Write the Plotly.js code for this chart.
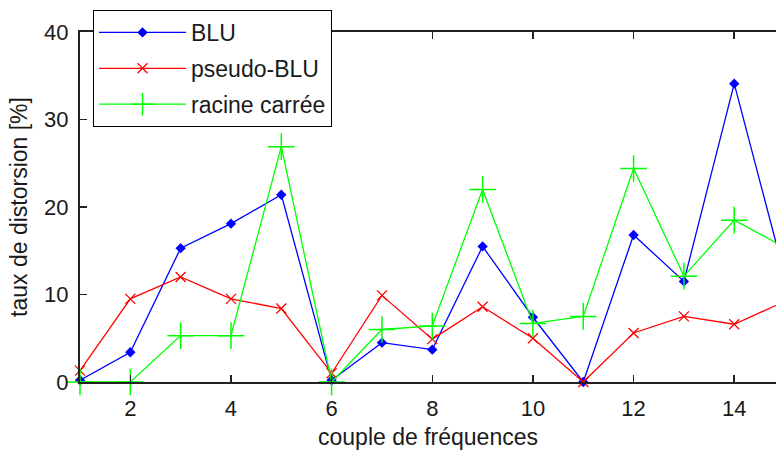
<!DOCTYPE html>
<html>
<head>
<meta charset="utf-8">
<script src="https://cdn.plot.ly/plotly-3.0.1.min.js"></script>
<style>
html,body{margin:0;padding:0;overflow:hidden;background:#fff;}
#chart{width:776px;height:450px;}
</style>
</head>
<body>
<div id="chart"></div>
<script>
var frequencyPairs = [1,2,3,4,5,6,7,8,9,10,11,12,13,14,15];
var bluValues = [0.2,3.4,15.3,18.1,21.4,0.2,4.5,3.7,15.5,7.4,0,16.8,11.5,34.1,12.2];
var pseudoBluValues = [1.3,9.5,12.0,9.5,8.4,1.0,9.9,4.9,8.6,5.0,0,5.6,7.5,6.6,9.2];
var racineValues = [0,0,5.3,5.3,26.9,0,6.0,6.4,22.0,6.7,7.5,24.4,12.1,18.5,15.4];
var seriesNames = ['BLU','pseudo-BLU','racine carrée'];
var xTicks = [2,4,6,8,10,12,14];
var yTicks = [0,10,20,30,40];

var fam = 'Liberation Sans, Arial, sans-serif';
var tickFont = {family:fam, size:22, color:'#1a1a1a'};
var legendFont = {family:fam, size:23, color:'#1a1a1a'};
var titleFont = {family:fam, size:23, color:'#1a1a1a'};

var traces = [
  {x:frequencyPairs, y:bluValues, name:seriesNames[0], type:'scatter', mode:'lines+markers',
   line:{color:'#0000ff', width:1.3}, marker:{symbol:'diamond', size:8, color:'#0000ff'},
   cliponaxis:false, legendgroup:'a'},
  {x:frequencyPairs, y:pseudoBluValues, name:seriesNames[1], type:'scatter', mode:'lines+markers',
   line:{color:'#ff0000', width:1.3}, marker:{symbol:'x-thin-open', size:10, color:'#ff0000', line:{width:1.3, color:'#ff0000'}},
   cliponaxis:false, legendgroup:'b'},
  {x:frequencyPairs, y:racineValues, name:seriesNames[2], type:'scatter', mode:'lines+markers',
   line:{color:'#00ff00', width:1.3}, marker:{symbol:'cross-thin-open', size:19, color:'#00ff00', line:{width:1.5, color:'#00ff00'}},
   cliponaxis:false, legendgroup:'c'}
];

var layout = {
  width:776, height:450,
  margin:{l:80, r:0, t:32, b:68, pad:0},
  paper_bgcolor:'#fff', plot_bgcolor:'#fff',
  font:tickFont,
  showlegend:true,
  legend:{x:0.0187, y:1.063, xanchor:'left', yanchor:'top', bgcolor:'#fff',
          bordercolor:'#000', borderwidth:1, font:legendFont, itemwidth:87,
          traceorder:'grouped', tracegroupgap:3},
  xaxis:{range:[1,14.83], tickmode:'array', tickvals:xTicks, ticktext:xTicks.map(String),
         ticks:'inside', ticklen:7, tickwidth:1.5, tickcolor:'#222',
         showline:true, linecolor:'#222', linewidth:2, mirror:'ticks',
         showgrid:false, zeroline:false, tickfont:tickFont, ticklabelstandoff:6,
         title:{text:'couple de fréquences', font:titleFont, standoff:9}},
  yaxis:{range:[0,40], tickmode:'array', tickvals:yTicks, ticktext:yTicks.map(String),
         ticks:'inside', ticklen:7, tickwidth:1.5, tickcolor:'#222',
         showline:true, linecolor:'#222', linewidth:2, mirror:false,
         showgrid:false, zeroline:false, tickfont:tickFont, ticklabelstandoff:5,
         title:{text:'taux de distorsion [%]', font:titleFont, standoff:10}}
};

Plotly.newPlot('chart', traces, layout, {displayModeBar:false, staticPlot:true});
</script>
</body>
</html>
